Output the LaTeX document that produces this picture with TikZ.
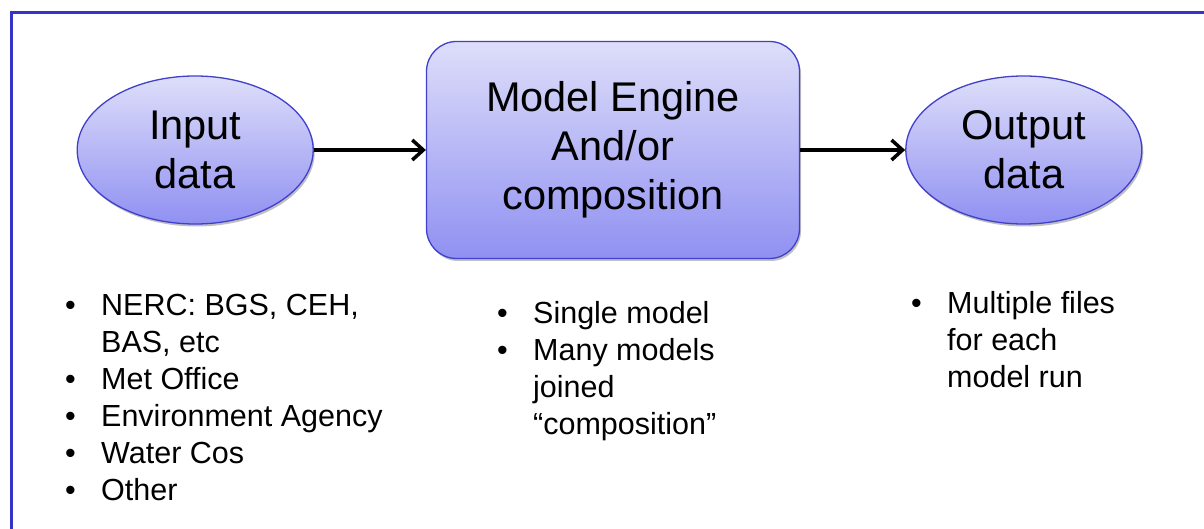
\documentclass[tikz,border=0pt]{standalone}
\usepackage{fontspec}
\setmainfont{Liberation Sans}
\usetikzlibrary{positioning,shapes.geometric,arrows.meta,shadows}
\definecolor{frameColor}{RGB}{52,52,200}
\definecolor{shapeBorder}{RGB}{64,64,204}
\definecolor{shapeTop}{RGB}{222,222,250}
\definecolor{shapeBottom}{RGB}{144,144,242}
\tikzstyle{pixelGrid} = [x = 1pt, y = -1pt]
\tikzstyle{shapeStyle} = [draw=shapeBorder, line width=1.3pt, top color=shapeTop, bottom color=shapeBottom,
  drop shadow={shadow xshift=1.5pt, shadow yshift=-2.5pt, fill=black, opacity=0.25},
  align=center, inner sep=0pt, font=\fontsize{41.5}{49}\selectfont]
\tikzstyle{ovalStyle} = [shapeStyle, ellipse, minimum width=236pt, minimum height=148pt]
\tikzstyle{engineStyle} = [shapeStyle, rectangle, rounded corners=30pt, minimum width=373pt, minimum height=217pt]
\tikzstyle{flowArrow} = [line width=3.5pt, -{Straight Barb[length=11pt, width=20pt]}]
\tikzstyle{listText} = [anchor=base west, inner sep=0pt, font=\fontsize{30.5}{37}\selectfont]
\tikzstyle{frameLine} = [color=frameColor, line width=3pt]
\newcommand{\bulletList}[1]{\begin{tabular}[t]{@{}p{36pt}@{}l@{}}#1\end{tabular}}
\newcommand{\bulletItem}[1]{\textbullet & #1\\}
\newcommand{\moreLine}[1]{ & #1\\}

\begin{document}
\begin{tikzpicture}[pixelGrid]
  \useasboundingbox (0,0) rectangle (1204,529);
  \draw [frameLine] (11.5,529) -- (11.5,12.5) -- (1204,12.5);

  \node [engineStyle] (engine) at (613,150) {Model Engine\\And/or\\composition};
  \node [ovalStyle, left = 112pt of engine] (input) {Input\\data};
  \node [ovalStyle, right = 105pt of engine] (output) {Output\\data};

  \draw [flowArrow] (input) -- (engine);
  \draw [flowArrow] (engine) -- (output);

  \node [listText] (inputList) at (65,315) {\bulletList{
    \bulletItem{NERC: BGS, CEH,}
    \moreLine{BAS, etc}
    \bulletItem{Met Office}
    \bulletItem{Environment Agency}
    \bulletItem{Water Cos}
    \bulletItem{Other}}};
  \node [listText] (engineList) at (497,323) {\bulletList{
    \bulletItem{Single model}
    \bulletItem{Many models}
    \moreLine{joined}
    \moreLine{``composition''}}};
  \node [listText] (outputList) at (911,313) {\bulletList{
    \bulletItem{Multiple files}
    \moreLine{for each}
    \moreLine{model run}}};
\end{tikzpicture}
\end{document}
